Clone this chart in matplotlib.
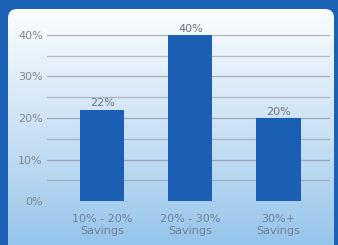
import matplotlib.pyplot as plt
import numpy as np
from matplotlib.patches import FancyBboxPatch
from matplotlib.colors import LinearSegmentedColormap

categories = ['10% - 20%\nSavings', '20% - 30%\nSavings', '30%+\nSavings']
values = [22, 40, 20]
y_ticks = [0, 10, 20, 30, 40]
y_tick_labels = ['0%', '10%', '20%', '30%', '40%']
minor_ticks = [5, 15, 25, 35]

plt.rcParams['font.family'] = ['DejaVu Sans']

fig = plt.figure(figsize=(3.38, 2.45), dpi=100)
fig.patch.set_facecolor('#1b62b6')

# inner panel with vertical gradient and rounded corners
bg = fig.add_axes([0, 0, 1, 1])
bg.set_xlim(0, 338)
bg.set_ylim(0, 245)
bg.axis('off')
cmap = LinearSegmentedColormap.from_list('panel', ['#8cbfe9', '#c9e0f4', '#fbfdff'])
grad = np.linspace(0, 1, 256).reshape(-1, 1)
img = bg.imshow(grad, extent=[8, 334, -20, 236], origin='lower', cmap=cmap, aspect='auto')
panel = FancyBboxPatch((8, -20), 326, 256, boxstyle='round,pad=0,rounding_size=9',
                       facecolor='none', edgecolor='none', transform=bg.transData)
bg.add_patch(panel)
img.set_clip_path(panel)

ax = fig.add_axes([47 / 338, 44 / 245, 283 / 338, 166 / 245])
ax.patch.set_alpha(0)
x = np.arange(len(categories))
ax.set_xlim(-0.63, 2.585)
ax.set_ylim(0, 40)

for y in y_ticks[1:]:
    ax.axhline(y, color='#8a9097', lw=0.9, alpha=0.7, zorder=1)
for y in minor_ticks:
    ax.axhline(y, color='#8a9097', lw=0.9, alpha=0.55, zorder=1)

ax.bar(x, values, width=0.5, color='#1a5fb4', zorder=2)
for xi, v in zip(x, values):
    ax.text(xi, v + 0.3, f'{v}%', ha='center', va='bottom', fontsize=8, color='#6d737a')

for s in ax.spines.values():
    s.set_visible(False)
ax.set_yticks(y_ticks)
ax.set_yticklabels(y_tick_labels, fontsize=8, color='#80868d')
ax.set_xticks(x)
ax.set_xticklabels(categories, fontsize=8, color='#6f7f90', linespacing=1.25)
ax.tick_params(length=0)
ax.tick_params(axis='x', pad=9)
ax.tick_params(axis='y', pad=3)

fig.savefig('out.png', dpi=100, facecolor=fig.get_facecolor())
